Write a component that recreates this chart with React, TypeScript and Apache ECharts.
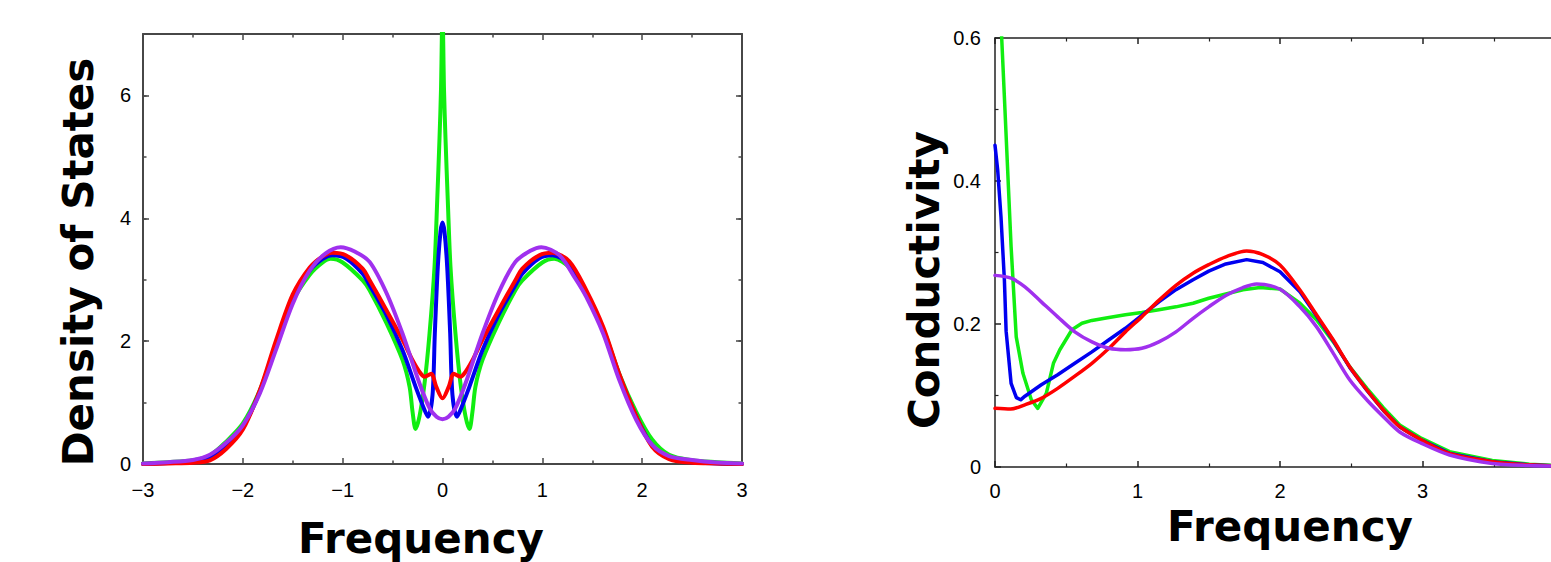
import React, { useEffect, useRef } from "react";
import * as echarts from "echarts";

// ---- Density of states: [frequency, DOS] ----
const dosGreen: [number, number][] = [
  [-3.0, 0.01], [-2.75, 0.03], [-2.5, 0.06], [-2.33, 0.14], [-2.17, 0.36], [-2.0, 0.66],
  [-1.83, 1.2], [-1.67, 1.93], [-1.5, 2.65], [-1.33, 3.08], [-1.2, 3.28], [-1.12, 3.34],
  [-1.0, 3.28], [-0.8, 2.99], [-0.73, 2.83], [-0.56, 2.29], [-0.4, 1.69], [-0.33, 1.26],
  [-0.3, 0.85], [-0.27, 0.57], [-0.23, 0.78], [-0.18, 1.31], [-0.13, 2.12], [-0.08, 3.21],
  [-0.053, 4.29], [-0.03, 5.3], [-0.015, 6.1], [0, 7.4], [0.015, 6.1], [0.03, 5.3],
  [0.053, 4.29], [0.08, 3.21], [0.13, 2.12], [0.18, 1.31], [0.23, 0.78], [0.27, 0.57],
  [0.3, 0.85], [0.33, 1.26], [0.4, 1.69], [0.56, 2.29], [0.73, 2.83], [0.8, 2.99],
  [1.0, 3.28], [1.12, 3.34], [1.27, 3.2], [1.44, 2.76], [1.61, 2.2], [1.77, 1.47],
  [1.94, 0.85], [2.1, 0.4], [2.27, 0.15], [2.5, 0.06], [2.75, 0.03], [3.0, 0.01],
];
const dosBlue: [number, number][] = [
  [-3.0, 0.0], [-2.75, 0.015], [-2.5, 0.04], [-2.33, 0.09], [-2.17, 0.28], [-2.0, 0.6],
  [-1.83, 1.18], [-1.67, 1.95], [-1.5, 2.7], [-1.33, 3.15], [-1.2, 3.34], [-1.1, 3.4],
  [-0.97, 3.35], [-0.8, 3.1], [-0.73, 2.91], [-0.56, 2.42], [-0.4, 1.85], [-0.27, 1.26],
  [-0.18, 0.88], [-0.145, 0.77], [-0.1, 1.12], [-0.077, 2.12], [-0.047, 3.21], [-0.02, 3.78],
  [0, 3.93], [0.02, 3.78], [0.047, 3.21], [0.077, 2.12], [0.1, 1.12], [0.145, 0.77],
  [0.18, 0.88], [0.27, 1.26], [0.4, 1.85], [0.56, 2.42], [0.73, 2.91], [0.8, 3.1],
  [0.97, 3.35], [1.1, 3.4], [1.27, 3.25], [1.44, 2.78], [1.61, 2.18], [1.77, 1.45],
  [1.94, 0.78], [2.1, 0.3], [2.27, 0.1], [2.5, 0.03], [2.75, 0.01], [3.0, 0.0],
];
const dosRed: [number, number][] = [
  [-3.0, 0.0], [-2.75, 0.01], [-2.5, 0.02], [-2.33, 0.06], [-2.17, 0.24], [-2.0, 0.56],
  [-1.83, 1.2], [-1.67, 2.0], [-1.5, 2.76], [-1.33, 3.2], [-1.2, 3.38], [-1.1, 3.44],
  [-0.97, 3.4], [-0.8, 3.18], [-0.73, 2.99], [-0.56, 2.5], [-0.4, 2.02], [-0.3, 1.69],
  [-0.23, 1.5], [-0.18, 1.42], [-0.113, 1.47], [-0.063, 1.26], [0, 1.07], [0.063, 1.26],
  [0.113, 1.47], [0.18, 1.42], [0.23, 1.5], [0.3, 1.69], [0.4, 2.02], [0.56, 2.5],
  [0.73, 2.99], [0.8, 3.18], [0.97, 3.4], [1.1, 3.44], [1.27, 3.3], [1.44, 2.83],
  [1.61, 2.23], [1.77, 1.47], [1.94, 0.78], [2.1, 0.28], [2.27, 0.08], [2.5, 0.02],
  [2.75, 0.01], [3.0, 0.0],
];
const dosPurple: [number, number][] = [
  [-3.0, 0.01], [-2.75, 0.03], [-2.5, 0.065], [-2.33, 0.15], [-2.17, 0.34], [-2.0, 0.63],
  [-1.83, 1.15], [-1.67, 1.85], [-1.5, 2.61], [-1.33, 3.15], [-1.17, 3.43], [-1.02, 3.53],
  [-0.88, 3.46], [-0.73, 3.29], [-0.56, 2.78], [-0.4, 2.12], [-0.23, 1.31], [-0.13, 0.91],
  [-0.06, 0.77], [0, 0.73], [0.06, 0.77], [0.13, 0.91], [0.23, 1.31], [0.4, 2.12],
  [0.56, 2.78], [0.73, 3.29], [0.88, 3.47], [0.99, 3.53], [1.17, 3.4], [1.33, 3.02],
  [1.44, 2.72], [1.61, 2.12], [1.77, 1.37], [1.94, 0.72], [2.1, 0.31], [2.27, 0.13],
  [2.5, 0.065], [2.75, 0.025], [3.0, 0.01],
];

// ---- Optical conductivity: [frequency, sigma] ----
const condGreen: [number, number][] = [
  [0, 0.81], [0.047, 0.6], [0.066, 0.517], [0.113, 0.308], [0.149, 0.182], [0.196, 0.131],
  [0.255, 0.094], [0.3, 0.082], [0.36, 0.103], [0.41, 0.145], [0.455, 0.164], [0.54, 0.192],
  [0.61, 0.201], [0.68, 0.205], [0.8, 0.209], [0.915, 0.213], [1.03, 0.216], [1.15, 0.22],
  [1.27, 0.224], [1.39, 0.229], [1.5, 0.236], [1.62, 0.242], [1.74, 0.248], [1.86, 0.251],
  [2.0, 0.249], [2.14, 0.229], [2.257, 0.2056], [2.374, 0.175], [2.49, 0.14], [2.61, 0.11],
  [2.725, 0.083], [2.84, 0.0587], [2.994, 0.04], [3.19, 0.0214], [3.49, 0.009], [3.75, 0.004],
  [4.0, 0.0015],
];
const condBlue: [number, number][] = [
  [0, 0.45], [0.019, 0.415], [0.042, 0.35], [0.066, 0.261], [0.078, 0.19], [0.113, 0.117],
  [0.15, 0.097], [0.18, 0.094], [0.21, 0.099], [0.325, 0.115], [0.44, 0.129], [0.56, 0.145],
  [0.68, 0.161], [0.8, 0.178], [0.915, 0.194], [1.03, 0.212], [1.15, 0.231], [1.27, 0.248],
  [1.39, 0.262], [1.5, 0.274], [1.62, 0.284], [1.766, 0.29], [1.88, 0.286], [2.0, 0.273],
  [2.14, 0.245], [2.257, 0.211], [2.374, 0.1765], [2.49, 0.139], [2.61, 0.107], [2.725, 0.079],
  [2.84, 0.056], [2.994, 0.0375], [3.19, 0.019], [3.49, 0.0075], [3.75, 0.003], [4.0, 0.001],
];
const condRed: [number, number][] = [
  [0, 0.082], [0.11, 0.081], [0.21, 0.087], [0.325, 0.096], [0.44, 0.11], [0.56, 0.127],
  [0.68, 0.145], [0.8, 0.166], [0.915, 0.189], [1.03, 0.21], [1.15, 0.233], [1.27, 0.254],
  [1.39, 0.271], [1.5, 0.283], [1.62, 0.294], [1.766, 0.302], [1.88, 0.297], [2.0, 0.2825],
  [2.14, 0.2475], [2.257, 0.2126], [2.374, 0.1776], [2.49, 0.14], [2.61, 0.1077], [2.725, 0.0797],
  [2.84, 0.0564], [2.994, 0.0378], [3.19, 0.019], [3.49, 0.0075], [3.75, 0.003], [4.0, 0.001],
];
const condPurple: [number, number][] = [
  [0, 0.268], [0.113, 0.264], [0.21, 0.252], [0.325, 0.231], [0.44, 0.21], [0.56, 0.189],
  [0.68, 0.175], [0.8, 0.166], [0.915, 0.164], [1.03, 0.166], [1.15, 0.175], [1.27, 0.189],
  [1.39, 0.208], [1.5, 0.224], [1.62, 0.24], [1.74, 0.251], [1.836, 0.256], [2.0, 0.2485],
  [2.14, 0.224], [2.257, 0.196], [2.374, 0.159], [2.49, 0.1217], [2.61, 0.0937], [2.725, 0.0704],
  [2.84, 0.049], [2.994, 0.033], [3.19, 0.0168], [3.49, 0.005], [3.75, 0.002], [4.0, 0.001],
];

const GREEN = "#11ee11";
const BLUE = "#0000f0";
const RED = "#ff0000";
const PURPLE = "#a030ee";

const LABEL_FONT = "'Liberation Sans', Arial, sans-serif";
const TITLE_FONT = "'DejaVu Sans', Verdana, sans-serif";

const minusFmt = (v: number) => (v < 0 ? "\u2212" + Math.abs(v) : String(v));

function frameAxis(color: string, width: number) {
  return {
    axisLine: { show: true, onZero: false, lineStyle: { color, width } },
    splitLine: { show: false },
    minorSplitLine: { show: false },
  };
}

function tickStyle(color: string, length: number) {
  return { show: true, inside: true, length, lineStyle: { color, width: 1.5 } };
}

export default function App() {
  const ref = useRef<HTMLDivElement>(null);

  useEffect(() => {
    if (!ref.current) return;
    const chart = echarts.init(ref.current, undefined, { renderer: "svg" });
    const LC = "#474747";
    const RC = "#222222";
    const labelStyle = { color: "#000", fontSize: 20, fontFamily: LABEL_FONT };

    const xAxes = [
      // left panel, bottom
      {
        type: "value", gridIndex: 0, position: "bottom", min: -3, max: 3, interval: 1,
        ...frameAxis(LC, 2),
        axisTick: tickStyle(LC, 6),
        minorTick: { show: true, splitNumber: 2, length: 3.5, lineStyle: { color: LC, width: 1.5 } },
        axisLabel: { ...labelStyle, margin: 16, formatter: minusFmt },
      },
      // left panel, top mirror
      {
        type: "value", gridIndex: 0, position: "top", min: -3, max: 3, interval: 1,
        ...frameAxis(LC, 2),
        axisTick: tickStyle(LC, 6),
        minorTick: { show: true, splitNumber: 2, length: 3.5, lineStyle: { color: LC, width: 1.5 } },
        axisLabel: { show: false },
      },
      // right panel, bottom (the tick at 4 falls past the page edge)
      {
        type: "value", gridIndex: 1, position: "bottom", min: 0, max: 4, interval: 1,
        ...frameAxis(RC, 1.5),
        axisTick: tickStyle(RC, 6),
        minorTick: { show: true, splitNumber: 2, length: 3.5, lineStyle: { color: RC, width: 1.2 } },
        axisLabel: { ...labelStyle, margin: 14, formatter: (v: number) => (v >= 4 ? "" : String(v)) },
      },
      // right panel, top mirror
      {
        type: "value", gridIndex: 1, position: "top", min: 0, max: 4, interval: 1,
        ...frameAxis(RC, 1.5),
        axisTick: tickStyle(RC, 6),
        minorTick: { show: true, splitNumber: 2, length: 3.5, lineStyle: { color: RC, width: 1.2 } },
        axisLabel: { show: false },
      },
    ];

    const yAxes = [
      // left panel, major ticks with labels
      {
        type: "value", gridIndex: 0, position: "left", min: 0, max: 7, interval: 2,
        ...frameAxis(LC, 2),
        axisTick: tickStyle(LC, 6),
        axisLabel: { ...labelStyle, margin: 12, formatter: (v: number) => (v === 7 ? "" : String(v)) },
      },
      // left panel, minor ticks
      {
        type: "value", gridIndex: 0, position: "left", min: 0, max: 7, interval: 1,
        axisLine: { show: false, onZero: false }, splitLine: { show: false },
        axisTick: tickStyle(LC, 3.5),
        axisLabel: { show: false },
      },
      // left panel, right mirror (major)
      {
        type: "value", gridIndex: 0, position: "right", min: 0, max: 7, interval: 2,
        ...frameAxis(LC, 2),
        axisTick: tickStyle(LC, 6),
        axisLabel: { show: false },
      },
      // left panel, right mirror (minor)
      {
        type: "value", gridIndex: 0, position: "right", min: 0, max: 7, interval: 1,
        axisLine: { show: false, onZero: false }, splitLine: { show: false },
        axisTick: tickStyle(LC, 3.5),
        axisLabel: { show: false },
      },
      // right panel
      {
        type: "value", gridIndex: 1, position: "left", min: 0, max: 0.6, interval: 0.2,
        ...frameAxis(RC, 1.5),
        axisTick: tickStyle(RC, 6),
        minorTick: { show: true, splitNumber: 2, length: 3.5, lineStyle: { color: RC, width: 1.2 } },
        axisLabel: { ...labelStyle, margin: 14 },
      },
    ];

    const dosLine = (data: [number, number][], color: string) => ({
      type: "line", xAxisIndex: 0, yAxisIndex: 0, data, symbol: "none", showSymbol: false,
      smooth: 0.3, clip: true,
      lineStyle: { color, width: 4, join: "round", cap: "round" },
    });
    const condLine = (data: [number, number][], color: string, smooth: number | boolean) => ({
      type: "line", xAxisIndex: 2, yAxisIndex: 4, data, symbol: "none", showSymbol: false,
      smooth, clip: true,
      lineStyle: { color, width: 3.5, join: "round", cap: "round" },
    });

    const titleText = (text: string, x: number, y: number, rotation = 0) => ({
      type: "text", x, y, rotation, silent: true,
      style: {
        text, fill: "#000", fontSize: 42, fontWeight: "bold", fontFamily: TITLE_FONT,
        align: "center", verticalAlign: "middle",
      },
    });

    chart.setOption({
      animation: false,
      backgroundColor: "#ffffff",
      grid: [
        { left: 143, top: 34, width: 599, height: 430, containLabel: false },
        { left: 995, top: 38, width: 570, height: 429, containLabel: false },
      ],
      xAxis: xAxes,
      yAxis: yAxes,
      series: [
        dosLine(dosGreen, GREEN),
        dosLine(dosBlue, BLUE),
        dosLine(dosRed, RED),
        dosLine(dosPurple, PURPLE),
        condLine(condGreen, GREEN, false),
        condLine(condBlue, BLUE, false),
        condLine(condRed, RED, 0.3),
        condLine(condPurple, PURPLE, 0.3),
      ],
      graphic: [
        titleText("Frequency", 421, 538),
        titleText("Density of States", 78, 262, Math.PI / 2),
        titleText("Frequency", 1290, 526),
        titleText("Conductivity", 924, 280, Math.PI / 2),
      ],
    });

    return () => chart.dispose();
  }, []);

  return (
    <div
      style={{
        position: "absolute", left: 0, top: 0, width: 1551, height: 562,
        overflow: "hidden", background: "#fff",
      }}
    >
      <div ref={ref} style={{ width: 1600, height: 562 }} />
    </div>
  );
}
